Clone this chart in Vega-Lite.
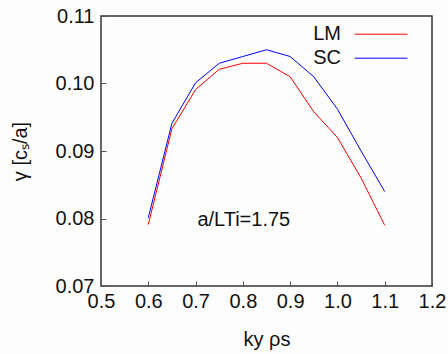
{
  "$schema": "https://vega.github.io/schema/vega-lite/v6.json",
  "width": 331,
  "height": 270,
  "autosize": {"type": "none"},
  "padding": {"left": 101, "top": 16, "right": 16, "bottom": 68},
  "background": "#fdfdfd",
  "config": {
    "font": "Liberation Sans",
    "view": {"stroke": "#333333", "strokeWidth": 1.5},
    "axis": {
      "grid": false,
      "domain": false,
      "labelFont": "Liberation Sans",
      "titleFont": "Liberation Sans",
      "labelFontSize": 20,
      "titleFontSize": 20,
      "labelColor": "#111111",
      "titleColor": "#111111",
      "titleFontWeight": "normal",
      "tickColor": "#555555",
      "tickSize": -5,
      "tickWidth": 1
    }
  },
  "data": {
    "values": [
      {"k": 0.6, "gamma": 0.0791, "model": "LM"},
      {"k": 0.65, "gamma": 0.0933, "model": "LM"},
      {"k": 0.7, "gamma": 0.0991, "model": "LM"},
      {"k": 0.75, "gamma": 0.1021, "model": "LM"},
      {"k": 0.8, "gamma": 0.1030, "model": "LM"},
      {"k": 0.85, "gamma": 0.1030, "model": "LM"},
      {"k": 0.9, "gamma": 0.1010, "model": "LM"},
      {"k": 0.95, "gamma": 0.0958, "model": "LM"},
      {"k": 1.0, "gamma": 0.0920, "model": "LM"},
      {"k": 1.05, "gamma": 0.0860, "model": "LM"},
      {"k": 1.1, "gamma": 0.0790, "model": "LM"},
      {"k": 0.6, "gamma": 0.0801, "model": "SC"},
      {"k": 0.65, "gamma": 0.0941, "model": "SC"},
      {"k": 0.7, "gamma": 0.1001, "model": "SC"},
      {"k": 0.75, "gamma": 0.1030, "model": "SC"},
      {"k": 0.8, "gamma": 0.1040, "model": "SC"},
      {"k": 0.85, "gamma": 0.1050, "model": "SC"},
      {"k": 0.9, "gamma": 0.1040, "model": "SC"},
      {"k": 0.95, "gamma": 0.1010, "model": "SC"},
      {"k": 1.0, "gamma": 0.0962, "model": "SC"},
      {"k": 1.05, "gamma": 0.0900, "model": "SC"},
      {"k": 1.1, "gamma": 0.0840, "model": "SC"}
    ]
  },
  "layer": [
    {
      "mark": {"type": "line", "strokeWidth": 1, "clip": true},
      "encoding": {
        "x": {
          "field": "k",
          "type": "quantitative",
          "scale": {"domain": [0.5, 1.2], "nice": false, "zero": false},
          "axis": {
            "values": [0.5, 0.6, 0.7, 0.8, 0.9, 1.0, 1.1, 1.2],
            "format": ".1f",
            "labelPadding": 10,
            "title": "ky ρs",
            "titleY": 59,
            "titleBaseline": "alphabetic",
            "labelFlush": false
          }
        },
        "y": {
          "field": "gamma",
          "type": "quantitative",
          "scale": {"domain": [0.07, 0.11], "nice": false, "zero": false},
          "axis": {
            "values": [0.07, 0.08, 0.09, 0.1, 0.11],
            "format": ".2f",
            "labelPadding": 12,
            "title": "γ [cₛ/a]",
            "titleX": -75,
            "titleY": 135,
            "titleAngle": -90,
            "titleBaseline": "alphabetic",
            "labelFlush": false
          }
        },
        "color": {
          "field": "model",
          "type": "nominal",
          "scale": {"domain": ["LM", "SC"], "range": ["#ff0000", "#0000ff"]},
          "legend": {
            "title": null,
            "orient": "none",
            "legendX": 269.5,
            "legendY": 7.7,
            "padding": 0,
            "symbolType": "M-2.65,0H2.65",
            "symbolSize": 400,
            "symbolStrokeWidth": 1,
            "symbolFillColor": "transparent",
            "labelFontSize": 20,
            "labelFont": "Liberation Sans",
            "labelColor": "#111111",
            "labelAlign": "right",
            "labelOffset": -50.5,
            "rowPadding": 3
          }
        }
      }
    },
    {
      "data": {"values": [{"note": "a/LTi=1.75"}]},
      "mark": {"type": "text", "fontSize": 20, "font": "Liberation Sans", "color": "#111111", "baseline": "middle", "align": "center"},
      "encoding": {
        "x": {"datum": 0.802, "type": "quantitative"},
        "y": {"datum": 0.0798, "type": "quantitative"},
        "text": {"field": "note"}
      }
    }
  ]
}
